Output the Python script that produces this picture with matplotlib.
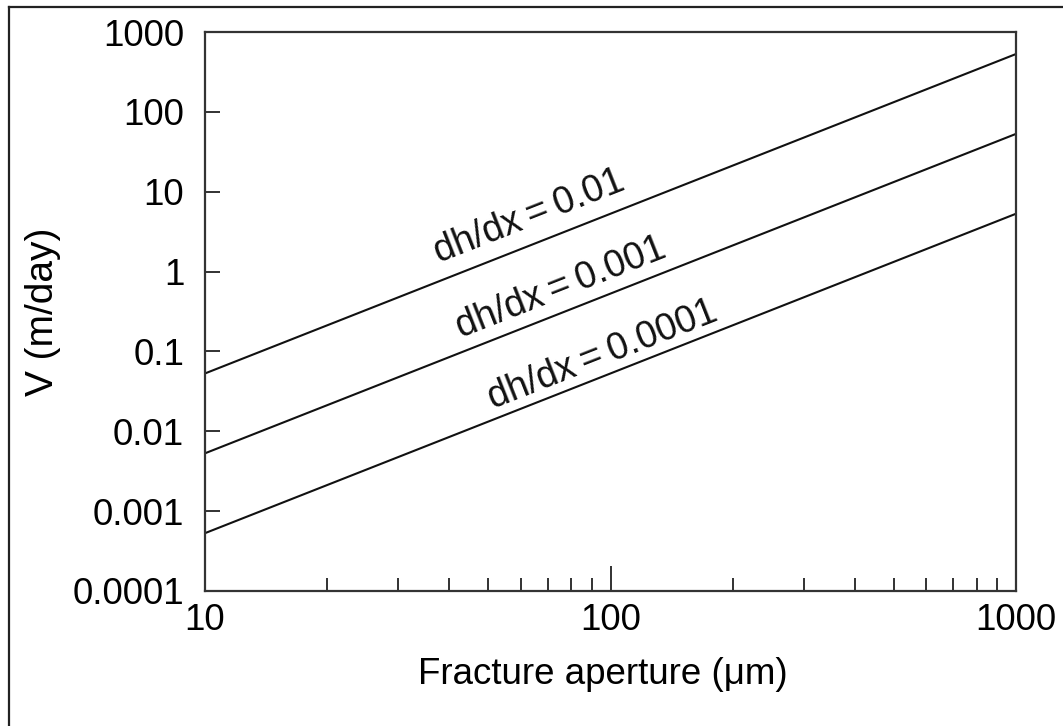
import matplotlib
matplotlib.use("Agg")
import matplotlib.pyplot as plt
from matplotlib.lines import Line2D
from matplotlib.ticker import FixedLocator, NullFormatter, NullLocator

plt.rcParams['font.family'] = ['Liberation Sans', 'DejaVu Sans']

# data
aperture = [10, 1000]                  # fracture aperture (um)
v_grad_01 = [0.053, 530]               # dh/dx = 0.01
v_grad_001 = [0.0053, 53]              # dh/dx = 0.001
v_grad_0001 = [0.00053, 5.3]           # dh/dx = 0.0001
series = [v_grad_01, v_grad_001, v_grad_0001]

labels = ["dh/dx\u2009=\u20090.01", "dh/dx\u2009=\u20090.001", "dh/dx\u2009=\u20090.0001"]
label_x = [63, 75.5, 95.7]
label_y = [4.9, 0.63, 0.089]

y_ticks = [0.0001, 0.001, 0.01, 0.1, 1, 10, 100, 1000]
y_ticklabels = ["0.0001", "0.001", "0.01", "0.1", "1", "10", "100", "1000"]
x_ticks = [10, 100, 1000]
x_ticklabels = ["10", "100", "1000"]
x_minor = [20, 30, 40, 50, 60, 70, 80, 90, 200, 300, 400, 500, 600, 700, 800, 900]

fig = plt.figure(figsize=(10.63, 7.26), dpi=100)
ax = fig.add_axes([205 / 1063, 1 - 591 / 726, 811 / 1063, 559 / 726])

for v in series:
    ax.plot(aperture, v, color='#111111', lw=1.5)

ax.set_xscale('log')
ax.set_yscale('log')
ax.set_xlim(10, 1000)
ax.set_ylim(0.0001, 1000)

ax.yaxis.set_major_locator(FixedLocator(y_ticks))
ax.set_yticklabels(y_ticklabels)
ax.yaxis.set_minor_locator(NullLocator())
ax.xaxis.set_major_locator(FixedLocator(x_ticks))
ax.set_xticklabels(x_ticklabels)
ax.xaxis.set_minor_locator(FixedLocator(x_minor))
ax.xaxis.set_minor_formatter(NullFormatter())

ax.tick_params(axis='y', which='major', direction='in', length=11, width=1.3,
               labelsize=26.5, pad=15, color='#222222')
ax.tick_params(axis='x', which='major', direction='in', length=18, width=1.3,
               labelsize=26.5, pad=9, color='#222222')
ax.tick_params(axis='x', which='minor', direction='in', length=9.5, width=1.3,
               color='#222222')
for s in ax.spines.values():
    s.set_linewidth(1.6)
    s.set_color('#333333')

ax.set_xlabel("Fracture aperture (\u03bcm)", fontsize=26.5)
ax.xaxis.set_label_coords(0.491, -0.118)
ax.set_ylabel("V (m/day)", fontsize=28)
ax.yaxis.set_label_coords(-0.177, 0.5)

for txt, lx, ly in zip(labels, label_x, label_y):
    ax.text(lx, ly, txt, fontsize=27, rotation=21.5, rotation_mode='anchor',
            ha='center', va='center', color='#111111')

# outer frame (only top and left edges visible in the reference)
fig.add_artist(Line2D([9 / 1063, 9 / 1063], [0, 1 - 7 / 726], color='#222222', lw=1.6))
fig.add_artist(Line2D([9 / 1063, 1], [1 - 7 / 726, 1 - 7 / 726], color='#222222', lw=1.6))

fig.savefig("out.png", dpi=100)
